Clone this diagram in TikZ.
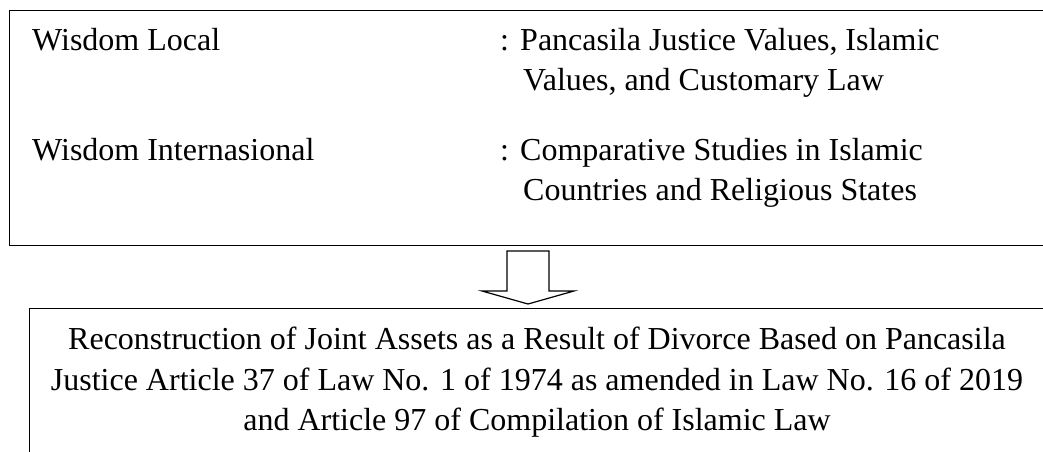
\documentclass[tikz,border=0pt]{standalone}
\usepackage{fontspec}
\setmainfont{Liberation Serif}
\usetikzlibrary{calc}
\begin{document}
\begin{tikzpicture}[x=1pt,y=-1pt,
  txt/.style={inner sep=0pt, anchor=base west, font=\fontsize{32}{36}\selectfont},
  ctxt/.style={inner sep=0pt, anchor=base, font=\fontsize{32}{36}\selectfont},
  frame/.style={draw, line width=1.4pt, inner sep=0pt, anchor=north west, fill=none}]
\useasboundingbox (0,0) rectangle (1043,451);
\clip (0,0) rectangle (1043,451);
% boxes
\node[frame, minimum width=1050pt, minimum height=235pt] (top) at (9,10) {};
\node[frame, minimum width=1030pt, minimum height=160pt] (bot) at (29,308) {};
% top box texts
\node[txt] (l1) at (32,50) {Wisdom Local};
\node[txt] (c1) at (500,50) {:};
\node[txt] (v1a) at (520,50) {Pancasila Justice Values, Islamic};
\node[txt] (v1b) at (523,90) {Values, and Customary Law};
\node[txt] (l2) at (32,160) {Wisdom Internasional};
\node[txt] (c2) at (500,160) {:};
\node[txt] (v2a) at (520,160) {Comparative Studies in Islamic};
\node[txt] (v2b) at (523,200) {Countries and Religious States};
% bottom texts
\node[ctxt] (b1) at (537,349) {Reconstruction of Joint Assets as a Result of Divorce Based on Pancasila};
\node[ctxt] (b2) at (537,390) {Justice Article 37 of Law No. 1 of 1974 as amended in Law No. 16 of 2019};
\node[ctxt] (b3) at (537,430) {and Article 97 of Compilation of Islamic Law};
% block arrow
\coordinate (as) at (528,251);
\draw[line width=1.2pt, line join=miter]
  ($(as)+(-21,0)$) -- ($(as)+(21,0)$) -- ($(as)+(21,40)$) -- ($(as)+(46,40)$)
  -- ($(as)+(0,53)$) -- ($(as)+(-46,40)$) -- ($(as)+(-21,40)$) -- cycle;
\end{tikzpicture}
\end{document}
